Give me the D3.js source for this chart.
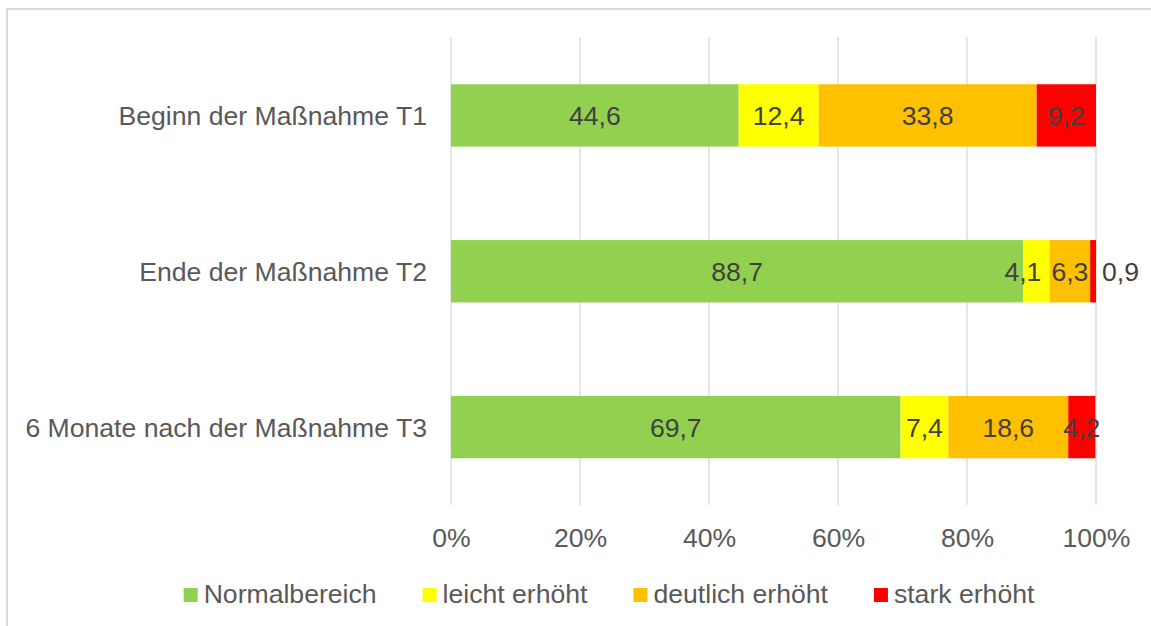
<!DOCTYPE html>
<html>
<head>
<meta charset="utf-8">
<script src="https://cdnjs.cloudflare.com/ajax/libs/d3/7.8.5/d3.min.js"></script>
<style>
body { margin: 0; background: #fff; }
text { font-family: "Liberation Sans", Arial, sans-serif; }
</style>
</head>
<body>
<div id="viz"></div>
<script>

var width = 1151
var height = 626
var fontSize = 26.6

// data
var categories = ["Beginn der Maßnahme T1", "Ende der Maßnahme T2", "6 Monate nach der Maßnahme T3"];
var seriesNames = ["Normalbereich", "leicht erhöht", "deutlich erhöht", "stark erhöht"];
var normal = [44.6, 88.7, 69.7];
var leicht = [12.4, 4.1, 7.4];
var deutlich = [33.8, 6.3, 18.6];
var stark = [9.2, 0.9, 4.2];
var colors = ["#92D050", "#FFFF00", "#FFC000", "#FF0000"];
var ticks = [0, 20, 40, 60, 80, 100];

var svg = d3.select("#viz")
	.append("svg")
	.attr("width", width)
	.attr("height", height);

// chart frame
svg.append("rect")
	.attr("x", 7)
	.attr("y", 9)
	.attr("width", 1200)
	.attr("height", 700)
	.attr("fill", "none")
	.attr("stroke", "#d9d9d9")
	.attr("stroke-width", 2);

var rows = categories.map(function(c, i){
	return {cat: c, values: [normal[i], leicht[i], deutlich[i], stark[i]]};
});

var xScale = d3.scaleLinear()
	.domain([0, 100])
	.range([451, 1096]);

var yScale = d3.scaleBand()
	.domain(categories)
	.range([37.5, 505])
	.paddingInner(0.6)
	.paddingOuter(0.3);

// gridlines
svg.append("g")
	.selectAll("line")
	.data(ticks)
	.enter()
	.append("line")
	.attr("x1", function(d){ return xScale(d); })
	.attr("x2", function(d){ return xScale(d); })
	.attr("y1", 37)
	.attr("y2", 505)
	.attr("stroke", "#d9d9d9")
	.attr("stroke-width", 1.3);

// x axis
var xAxis = d3.axisBottom(xScale)
	.tickValues(ticks)
	.tickSize(0)
	.tickPadding(0)
	.tickFormat(function(d){ return d + "%"; });

var gx = svg.append("g")
	.attr("transform", "translate(0,547)")
	.call(xAxis);
gx.select(".domain").remove();
gx.selectAll("text")
	.attr("dy", 0)
	.attr("y", 0)
	.attr("font-size", fontSize)
	.attr("font-family", "Liberation Sans, Arial, sans-serif")
	.attr("fill", "#595959");

// y axis labels
var yAxis = d3.axisLeft(yScale).tickSize(0).tickPadding(0);
var gy = svg.append("g")
	.attr("transform", "translate(427,0)")
	.call(yAxis);
gy.select(".domain").remove();
gy.selectAll("text")
	.attr("dy", "0.36em")
	.attr("font-size", fontSize)
	.attr("font-family", "Liberation Sans, Arial, sans-serif")
	.attr("fill", "#595959");

// bars
rows.forEach(function(r){
	var acc = 0;
	var segs = r.values.map(function(v, j){
		var s = {x0: acc, x1: acc + v, v: v, j: j};
		acc += v;
		return s;
	});

	var g = svg.append("g");
	g.selectAll("rect")
		.data(segs)
		.enter()
		.append("rect")
		.attr("x", function(d){ return xScale(d.x0); })
		.attr("width", function(d){ return xScale(d.x1) - xScale(d.x0); })
		.attr("y", yScale(r.cat))
		.attr("height", yScale.bandwidth())
		.attr("fill", function(d){ return colors[d.j]; });

	var labels = g.selectAll("text.val")
		.data(segs)
		.enter()
		.append("text")
		.attr("class", "val")
		.text(function(d){ return String(d.v).replace(".", ","); })
		.attr("y", yScale(r.cat) + yScale.bandwidth() / 2)
		.attr("dy", "0.36em")
		.attr("font-size", fontSize)
		.attr("fill", "#404040")
		.attr("text-anchor", "middle");

	// place labels: centred, narrow ones outside, then push overlaps left
	var pos = [];
	labels.each(function(d){
		var w = this.getComputedTextLength();
		var segW = xScale(d.x1) - xScale(d.x0);
		var cx = (xScale(d.x0) + xScale(d.x1)) / 2;
		if (segW < 10) cx = xScale(d.x1) + 6 + w / 2;
		pos.push({cx: cx, w: w, outside: segW < 10});
	});
	for (var k = pos.length - 2; k >= 0; k--) {
		var next = pos[k + 1];
		if (next.outside) continue;
		var limit = next.cx - next.w / 2 - 10;
		if (pos[k].cx + pos[k].w / 2 > limit) pos[k].cx = limit - pos[k].w / 2;
	}
	labels.attr("x", function(d, i){ return pos[i].cx; });
});

// legend
var legend = svg.append("g");
var lx = 0;
seriesNames.forEach(function(name, i){
	var item = legend.append("g").attr("transform", "translate(" + lx + ",0)");
	item.append("rect")
		.attr("x", 0)
		.attr("y", 588)
		.attr("width", 14)
		.attr("height", 14)
		.attr("fill", colors[i]);
	var t = item.append("text")
		.text(name)
		.attr("x", 20)
		.attr("y", 603)
		.attr("font-size", fontSize)
		.attr("fill", "#595959");
	lx += 20 + t.node().getComputedTextLength() + 46;
});
var legendW = lx - 46;
legend.attr("transform", "translate(" + (609 - legendW / 2) + ",0)");

</script>
</body>
</html>
